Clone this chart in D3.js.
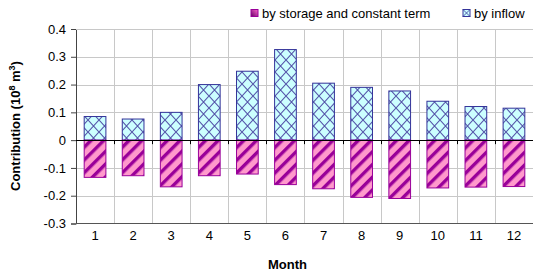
<!DOCTYPE html>
<html>
<head>
<meta charset="utf-8">
<script src="https://cdn.jsdelivr.net/npm/d3@7"></script>
<style>
  body { margin: 0; background: #fff; }
  svg { display: block; font-family: "Liberation Sans", Arial, sans-serif; }
</style>
</head>
<body>
<div id="chart"></div>
<script>
    // chart data
    var months = ["1", "2", "3", "4", "5", "6", "7", "8", "9", "10", "11", "12"];
    var byInflow = [0.085, 0.076, 0.100, 0.200, 0.248, 0.326, 0.205, 0.190, 0.177, 0.140, 0.121, 0.115];
    var byStorage = [-0.134, -0.128, -0.168, -0.128, -0.122, -0.160, -0.175, -0.206, -0.210, -0.172, -0.169, -0.167];
    var yTicks = [0.4, 0.3, 0.2, 0.1, 0, -0.1, -0.2, -0.3];
    var seriesNames = ["by storage and constant term", "by inflow"];

    var width = 533, height = 276;
    var plot = {left: 76, right: 533, top: 29, bottom: 223.5};

    var svg = d3.select("#chart").append("svg")
        .attr("width", width)
        .attr("height", height);

    // patterns for the two series
    var defs = svg.append("defs");
    var cross = defs.append("pattern")
        .attr("id", "cross")
        .attr("patternUnits", "userSpaceOnUse")
        .attr("width", 11).attr("height", 12);
    cross.append("rect").attr("width", 11).attr("height", 12).attr("fill", "#ccffff");
    cross.append("path")
        .attr("d", "M0,0L11,12M11,0L0,12")
        .attr("stroke", "#5555aa").attr("stroke-width", 1.1).attr("fill", "none");

    var stripe = defs.append("pattern")
        .attr("id", "stripe")
        .attr("patternUnits", "userSpaceOnUse")
        .attr("width", 9).attr("height", 9)
        .attr("patternTransform", "rotate(45)");
    stripe.append("rect").attr("width", 9).attr("height", 9).attr("fill", "#ff99cc");
    stripe.append("rect").attr("x", 0).attr("width", 3.4).attr("height", 9).attr("fill", "#990099");

    var x = d3.scaleBand()
        .domain(months)
        .range([plot.left, plot.right])
        .paddingInner(0.43)
        .paddingOuter(0.215);

    var y = d3.scaleLinear()
        .domain([-0.3, 0.4])
        .range([plot.bottom, plot.top]);

    var step = x.step();
    var bounds = months.map(function (m) { return x(m) - x.paddingInner() * step / 2 + step; });

    // gridlines
    svg.append("g").selectAll("line.h")
        .data(yTicks.filter(function (t) { return t !== 0 && t !== -0.3; }))
        .join("line")
        .attr("x1", plot.left).attr("x2", plot.right)
        .attr("y1", function (d) { return Math.round(y(d)) + 0.5; })
        .attr("y2", function (d) { return Math.round(y(d)) + 0.5; })
        .attr("stroke", "#c8c8c8");

    svg.append("g").selectAll("line.v")
        .data(bounds.slice(0, -1))
        .join("line")
        .attr("x1", function (d) { return Math.round(d) + 0.5; })
        .attr("x2", function (d) { return Math.round(d) + 0.5; })
        .attr("y1", plot.top).attr("y2", plot.bottom)
        .attr("stroke", "#c8c8c8");

    // bars
    svg.append("g").selectAll("rect")
        .data(byInflow)
        .join("rect")
        .attr("x", function (d, i) { return x(months[i]); })
        .attr("width", x.bandwidth())
        .attr("y", function (d) { return y(d); })
        .attr("height", function (d) { return y(0) - y(d); })
        .attr("fill", "url(#cross)")
        .attr("stroke", "#333399").attr("stroke-width", 1);

    svg.append("g").selectAll("rect")
        .data(byStorage)
        .join("rect")
        .attr("x", function (d, i) { return x(months[i]); })
        .attr("width", x.bandwidth())
        .attr("y", y(0))
        .attr("height", function (d) { return y(d) - y(0); })
        .attr("fill", "url(#stripe)")
        .attr("stroke", "#990099").attr("stroke-width", 1);

    // axes
    var yAxis = d3.axisLeft(y)
        .tickValues(yTicks)
        .tickSize(5)
        .tickFormat(function (d) { return d === 0 ? "0" : d3.format(".1f")(d).replace("\u2212", "-"); });
    var gy = svg.append("g")
        .attr("transform", "translate(" + plot.left + ",0)")
        .call(yAxis);
    gy.select(".domain").attr("stroke", "#444");
    gy.selectAll(".tick line").attr("stroke", "#444");
    gy.selectAll("text").attr("font-size", 13).attr("fill", "#000").attr("dx", "-2");

    svg.append("line")
        .attr("x1", plot.left).attr("x2", plot.right)
        .attr("y1", plot.top + 0.5).attr("y2", plot.top + 0.5)
        .attr("stroke", "#c8c8c8");
    svg.append("line")
        .attr("x1", plot.left).attr("x2", plot.right)
        .attr("y1", plot.bottom).attr("y2", plot.bottom)
        .attr("stroke", "#555");

    var xAxis = d3.axisBottom(x).tickSize(0).tickPadding(0);
    var gx = svg.append("g")
        .attr("transform", "translate(0," + plot.bottom + ")")
        .call(xAxis);
    gx.select(".domain").remove();
    gx.selectAll("text").attr("font-size", 13).attr("fill", "#000").attr("dy", "1.3em");

    // zero line with ticks
    svg.append("line")
        .attr("x1", plot.left).attr("x2", plot.right)
        .attr("y1", Math.round(y(0)) + 0.5).attr("y2", Math.round(y(0)) + 0.5)
        .attr("stroke", "#000");
    svg.append("g").selectAll("line")
        .data(bounds.slice(0, -1))
        .join("line")
        .attr("x1", function (d) { return Math.round(d) + 0.5; })
        .attr("x2", function (d) { return Math.round(d) + 0.5; })
        .attr("y1", y(0)).attr("y2", y(0) + 4)
        .attr("stroke", "#000");

    // axis titles
    svg.append("text")
        .attr("x", (plot.left + plot.right) / 2 - 17)
        .attr("y", 269)
        .attr("text-anchor", "middle")
        .attr("font-size", 13).attr("font-weight", "bold")
        .text("Month");

    var yt = svg.append("text")
        .attr("transform", "translate(20,126) rotate(-90)")
        .attr("text-anchor", "middle")
        .attr("font-size", 13).attr("font-weight", "bold");
    yt.append("tspan").text("Contribution (10");
    yt.append("tspan").attr("baseline-shift", "super").attr("font-size", 9).text("8");
    yt.append("tspan").text(" m");
    yt.append("tspan").attr("baseline-shift", "super").attr("font-size", 9).text("3");
    yt.append("tspan").text(")");

    // legend
    var legend = svg.append("g");
    var items = [
        {name: seriesNames[0], x: 251, grad: true},
        {name: seriesNames[1], x: 463, grad: false}
    ];
    var lg = defs.append("linearGradient").attr("id", "lgrad")
        .attr("x1", 0).attr("y1", 1).attr("x2", 1).attr("y2", 0);
    lg.append("stop").attr("offset", "0").attr("stop-color", "#660066");
    lg.append("stop").attr("offset", "1").attr("stop-color", "#ff66cc");
    items.forEach(function (it) {
        legend.append("rect")
            .attr("x", it.x).attr("y", 9.5).attr("width", 7).attr("height", 7)
            .attr("fill", it.grad ? "url(#lgrad)" : "#ccffff")
            .attr("stroke", it.grad ? "#990099" : "#333399");
        if (!it.grad) {
            legend.append("path")
                .attr("d", "M" + it.x + ",9.5l7,7M" + (it.x + 7) + ",9.5l-7,7")
                .attr("stroke", "#333399").attr("stroke-width", 0.8);
        }
        legend.append("text")
            .attr("x", it.x + 11).attr("y", 17.5)
            .attr("font-size", 13)
            .text(it.name);
    });
</script>
</body>
</html>
